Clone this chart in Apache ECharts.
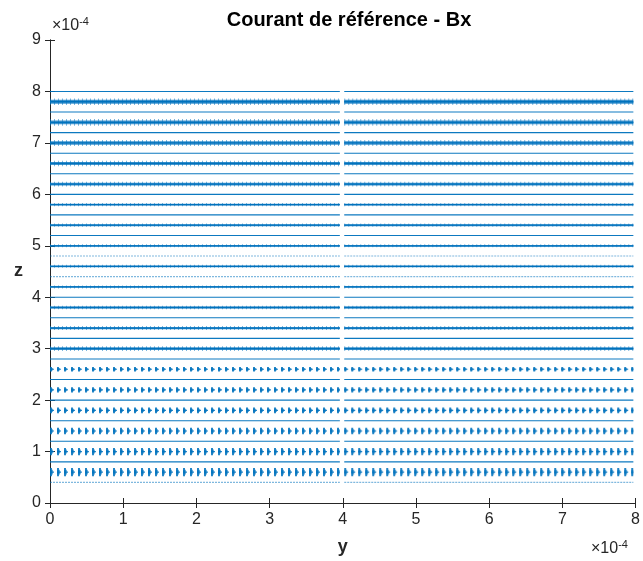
<!DOCTYPE html>
<html>
<head>
<meta charset="utf-8">
<script src="https://cdn.jsdelivr.net/npm/echarts@6/dist/echarts.min.js"></script>
<style>
html,body{margin:0;padding:0;background:#fff;}
#c{width:643px;height:561px;}
</style>
</head>
<body>
<div id="c"></div>
<script>
// All values in units of 1e-4 (axis shows ×10^-4)
const zLevels = [0.4,0.6,0.8,1.0,1.2,1.4,1.6,1.8,2.0,2.2,2.4,2.6,2.8,3.0,3.2,3.4,3.6,3.8,4.0,4.2,4.4,4.6,4.8,5.0,5.2,5.4,5.6,5.8,6.0,6.2,6.4,6.6,6.8,7.0,7.2,7.4,7.6,7.8,8.0];
// estimated peak-to-peak fluctuation (Bx noise) of each trace, in 1e-4 units
const zSpread = [0.01,0.16,0.01,0.14,0.01,0.13,0.01,0.11,0.01,0.10,0.01,0.09,0.01,0.07,0.01,0.06,0.01,0.05,0.01,0.045,0.01,0.045,0.01,0.045,0.01,0.05,0.01,0.05,0.01,0.07,0.01,0.08,0.01,0.09,0.01,0.10,0.01,0.10,0.01];
const segStart = [0, 4.02];
const segEnd = [3.96, 7.97];
const xTicks = [0,1,2,3,4,5,6,7,8];
const yTicks = [0,1,2,3,4,5,6,7,8,9];
const lightLevels = [0.4, 4.4, 4.8];

const BLUE = '#0072BD';
const AX = '#262626';
const FONT = '"Liberation Sans", Arial, Helvetica, sans-serif';
const gridTop = 40, gridBottom = 58, H = 561;
const pxPerUnit = (H - gridTop - gridBottom) / (yTicks[yTicks.length-1] - yTicks[0]);

function traceData(z){
  return [[segStart[0], z],[segEnd[0], z],[(segEnd[0]+segStart[1])/2,'-'],[segStart[1], z],[segEnd[1], z]];
}

const series = [];
zLevels.forEach((z,i)=>{
  const sp = zSpread[i];
  const w = sp * pxPerUnit;
  const base = {type:'line', data: traceData(z), xAxisIndex:0, yAxisIndex:0, symbol:'none', silent:true, animation:false, connectNulls:false};
  if (sp <= 0.015) {
    const light = lightLevels.indexOf(z) >= 0;
    series.push(Object.assign({}, base, {lineStyle:{color:BLUE, width:1.1, opacity: light?0.5:0.95, type: light?[2,1]:'solid'}}));
  } else if (z <= 2.7) {
    series.push(Object.assign({}, base, {lineStyle:{color:BLUE, width:1.2, opacity:0.85, type:[4,3]}}));
    series.push(Object.assign({}, base, {lineStyle:{color:BLUE, width:w*0.55, opacity:0.6, type:[3,4], cap:'butt'}}));
    series.push(Object.assign({}, base, {lineStyle:{color:BLUE, width:w, opacity:0.85, type:[2,5], cap:'butt'}}));
  } else {
    series.push(Object.assign({}, base, {lineStyle:{color:BLUE, width:Math.max(1.5,w*0.75), opacity:0.75}}));
    series.push(Object.assign({}, base, {lineStyle:{color:BLUE, width:w*1.3, opacity:0.5, type:[1,3], cap:'butt'}}));
    series.push(Object.assign({}, base, {lineStyle:{color:BLUE, width:1.3, opacity:1}}));
  }
});

const chart = echarts.init(document.getElementById('c'), null, {renderer:'canvas'});
const axisCommon = {
  type:'value', splitLine:{show:false},
  axisLine:{show:true, lineStyle:{color:AX, width:1}},
  axisTick:{show:true, inside:true, length:5, lineStyle:{color:AX, width:1}},
};
const expRich = {a:{fontFamily:FONT, fontSize:16, fill:AX}, b:{fontFamily:FONT, fontSize:11, fill:AX, verticalAlign:'top', padding:[0,0,9,0]}};
chart.setOption({
  backgroundColor:'#fff',
  animation:false,
  title:{text:'Courant de référence - Bx', left:344, textAlign:'center', top:5,
    textStyle:{fontFamily:FONT, fontWeight:'bold', fontSize:20, color:'#000'}},
  grid:{left:50, right:6, top:gridTop, bottom:gridBottom},
  xAxis:[
    Object.assign({}, axisCommon, {min:xTicks[0], max:xTicks[xTicks.length-1], interval:1, position:'bottom',
      axisLabel:{color:AX, fontFamily:FONT, fontSize:16, margin:9},
      name:'y', nameLocation:'middle', nameGap:35,
      nameTextStyle:{fontFamily:FONT, fontWeight:'bold', fontSize:18, color:AX}}),
    Object.assign({}, axisCommon, {min:xTicks[0], max:xTicks[xTicks.length-1], interval:1, position:'top', axisLabel:{show:false}})
  ],
  yAxis:[
    Object.assign({}, axisCommon, {min:yTicks[0], max:yTicks[yTicks.length-1], interval:1, position:'left',
      axisLabel:{color:AX, fontFamily:FONT, fontSize:16, margin:9},
      name:'z', nameLocation:'middle', nameGap:27, nameRotate:0,
      nameTextStyle:{fontFamily:FONT, fontWeight:'bold', fontSize:18, color:AX}}),
    Object.assign({}, axisCommon, {min:yTicks[0], max:yTicks[yTicks.length-1], interval:1, position:'right', axisLabel:{show:false}})
  ],
  graphic:[
    {type:'text', left:52, top:16, style:{text:'{a|×10}{b|-4}', rich:expRich}},
    {type:'text', left:591, top:539, style:{text:'{a|×10}{b|-4}', rich:expRich}}
  ],
  series: series
});
</script>
</body>
</html>
